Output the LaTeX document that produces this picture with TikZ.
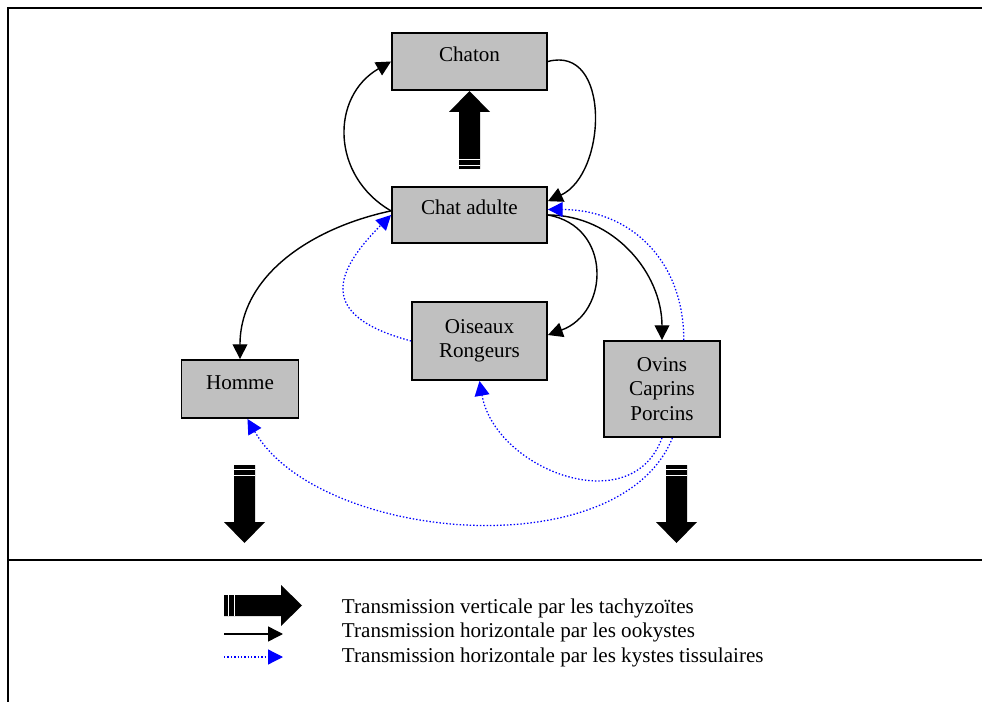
\documentclass[tikz,border=0pt]{standalone}
\usepackage{fontspec}
\setmainfont{Liberation Serif}
\usetikzlibrary{shapes,arrows.meta}
\definecolor{hostgray}{RGB}{192,192,192}
\newcommand\diagfont{\fontsize{15}{17.3}\selectfont}
\tikzset{
  host/.style={draw, line width=1.3pt, fill=hostgray, inner sep=0pt, align=center},
  oneline/.style={text height=0.35cm, text depth=0.35cm},
  ook/.style={line width=1pt, -{Triangle[length=0.37cm,width=0.37cm]}},
  kys/.style={blue, line width=0.9pt, dash pattern=on 1pt off 1.4pt, -{Triangle[length=0.37cm,width=0.37cm]}},
  bigarrow/.pic={
    \fill (-10.5,0) -- (10.5,0) -- (10.5,57) -- (20.5,57) -- (0,78)
          -- (-20.5,57) -- (-10.5,57) -- cycle;
    \draw [white, line width=0.6pt] (-10.5,4) -- (10.5,4) (-10.5,10) -- (10.5,10);
  }
}
\begin{document}
\begin{tikzpicture}[x=0.025cm, y=-0.025cm, font=\diagfont]
        \useasboundingbox (0,0) rectangle (982,702);
        % Draw frame
        \draw [line width=1.3pt] (982,8) -- (8,8) -- (8,702);
        \draw [line width=1.3pt] (8,560) -- (982,560);
        % Hosts
        \node [host, oneline, minimum width=3.875cm, minimum height=1.425cm] (chaton) at (469.5,61.5) {Chaton};
        \node [host, oneline, minimum width=3.875cm, minimum height=1.4cm] (chat) at (469.5,215) {Chat adulte};
        \node [host, minimum width=3.375cm, minimum height=1.95cm] (oiseaux) at (479.5,341) {Oiseaux\\Rongeurs};
        \node [host, oneline, minimum width=2.925cm, minimum height=1.45cm] (homme) at (240,389) {Homme};
        \node [host, minimum width=2.9cm, minimum height=2.4cm] (ovins) at (662,389) {Ovins\\Caprins\\Porcins};
        % Oocysts
        \draw [ook] (chat.177) to[out=150, in=210, looseness=1.2] (chaton.west);
        \draw [ook] (chaton.east) to[out=15, in=25, looseness=1.2] (chat.10);
        \draw [ook] (chat.177) to[out=192, in=90] (homme.north);
        \draw [ook] (chat.east) to[out=-10, in=20, looseness=1.4] (oiseaux.5);
        \draw [ook] (chat.east) to[out=0, in=90] (ovins.north);
        % Tissue cysts
        \draw [kys] (ovins.66) to[out=90, in=0, looseness=1.1] (chat.4);
        \draw [kys] (oiseaux.west) to[out=165, in=225, looseness=1.8] (chat.west);
        \draw [kys] (ovins.south) to[out=-110, in=-80, looseness=1.2] (oiseaux.south);
        \draw [kys] (ovins.-78) to[out=-112, in=-60, looseness=0.85] (homme.-76);
        % Tachyzoites
        \pic [rotate=180] at (469.5,169) {bigarrow};
        \pic at (244.5,465) {bigarrow};
        \pic at (676.5,465) {bigarrow};
        % Legend
        \pic [rotate=90] at (224,605.5) {bigarrow};
        \coordinate (ookA) at (224,634);
        \coordinate (ookB) at (283,634);
        \coordinate (kysA) at (224,657);
        \coordinate (kysB) at (283,657);
        \draw [ook] (ookA) -- (ookB);
        \draw [kys] (kysA) -- (kysB);
        \node [anchor=base west] (lgvert) at (337,613) {Transmission verticale par les tachyzoïtes};
        \node [anchor=base west] (lgook) at (337,637) {Transmission horizontale par les ookystes};
        \node [anchor=base west] (lgkys) at (337,662) {Transmission horizontale par les kystes tissulaires};
\end{tikzpicture}
\end{document}
